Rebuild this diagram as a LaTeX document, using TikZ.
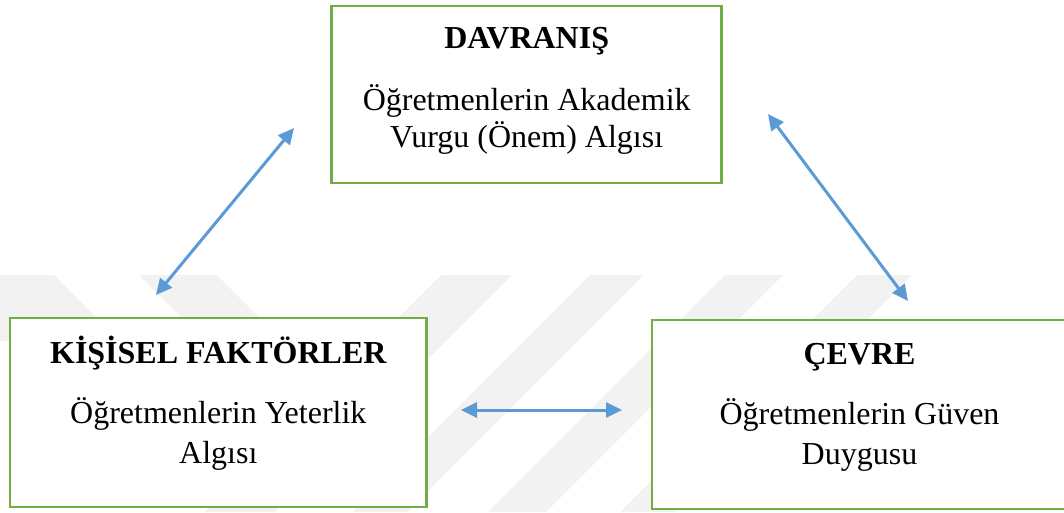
\documentclass[tikz,border=0pt]{standalone}
\usepackage{fontspec}
\setmainfont{Liberation Serif}
\usetikzlibrary{arrows.meta}
\definecolor{boxgreen}{HTML}{70AD47}
\definecolor{arrowblue}{HTML}{5B9BD5}
\definecolor{wmgray}{HTML}{F2F2F2}
\tikzset{
  boxnode/.style={draw=boxgreen,line width=2.5pt,fill=white,rectangle,inner sep=0pt},
  titletext/.style={font=\fontsize{32}{37}\selectfont\bfseries,anchor=base,inner sep=0pt},
  bodytext/.style={font=\fontsize{32}{37}\selectfont,anchor=base,inner sep=0pt},
  link/.style={draw=arrowblue,line width=3pt,{Triangle[length=16pt,width=15pt]}-{Triangle[length=16pt,width=15pt]}},
  wm/.style={fill=wmgray,draw=none}
}
\begin{document}
\begin{tikzpicture}[x=1pt,y=-1pt]
\useasboundingbox (0,0) rectangle (1064,512);
% watermark bands
\fill[wm] (0,275) -- (54,275) -- (120,341) -- (0,341) -- cycle;
\fill[wm] (139,275) -- (217,275) -- (300,358) -- (222,358) -- cycle;
\fill[wm] (441,275) -- (512,275) -- (275,512) -- (204,512) -- cycle;
\fill[wm] (590,275) -- (644,275) -- (407,512) -- (353,512) -- cycle;
\fill[wm] (725,275) -- (783,275) -- (546,512) -- (488,512) -- cycle;
\fill[wm] (857,275) -- (912,275) -- (675,512) -- (620,512) -- cycle;
% boxes
\node[boxnode,minimum width=390pt,minimum height=177pt] (davranis) at (526.7,94.3) {};
\node[boxnode,minimum width=416.7pt,minimum height=189pt] (kisisel) at (218.3,412.5) {};
\node[boxnode,minimum width=415pt,minimum height=189pt] (cevre) at (859.5,414.5) {};
% texts
\node[titletext] (davT) at (526.7,48) {DAVRANIŞ};
\node[bodytext] (davA) at (526.7,110) {Öğretmenlerin Akademik};
\node[bodytext] (davB) at (526.7,147) {Vurgu (Önem) Algısı};
\node[titletext] (kisT) at (218.3,363) {KİŞİSEL FAKTÖRLER};
\node[bodytext] (kisA) at (218.3,423) {Öğretmenlerin Yeterlik};
\node[bodytext] (kisB) at (218.3,463) {Algısı};
\node[titletext] (cevT) at (859.5,364) {ÇEVRE};
\node[bodytext] (cevA) at (859.5,424) {Öğretmenlerin Güven};
\node[bodytext] (cevB) at (859.5,464) {Duygusu};
% connector ends
\coordinate (kisUp) at (156,295);
\coordinate (davLeft) at (294,128);
\coordinate (davRight) at (768,114);
\coordinate (cevUp) at (908,301);
\coordinate (kisRight) at (461,410);
\coordinate (cevLeft) at (622,410);
\draw[link] (kisUp) -- (davLeft);
\draw[link] (davRight) -- (cevUp);
\draw[link] (kisRight) -- (cevLeft);
\end{tikzpicture}
\end{document}
